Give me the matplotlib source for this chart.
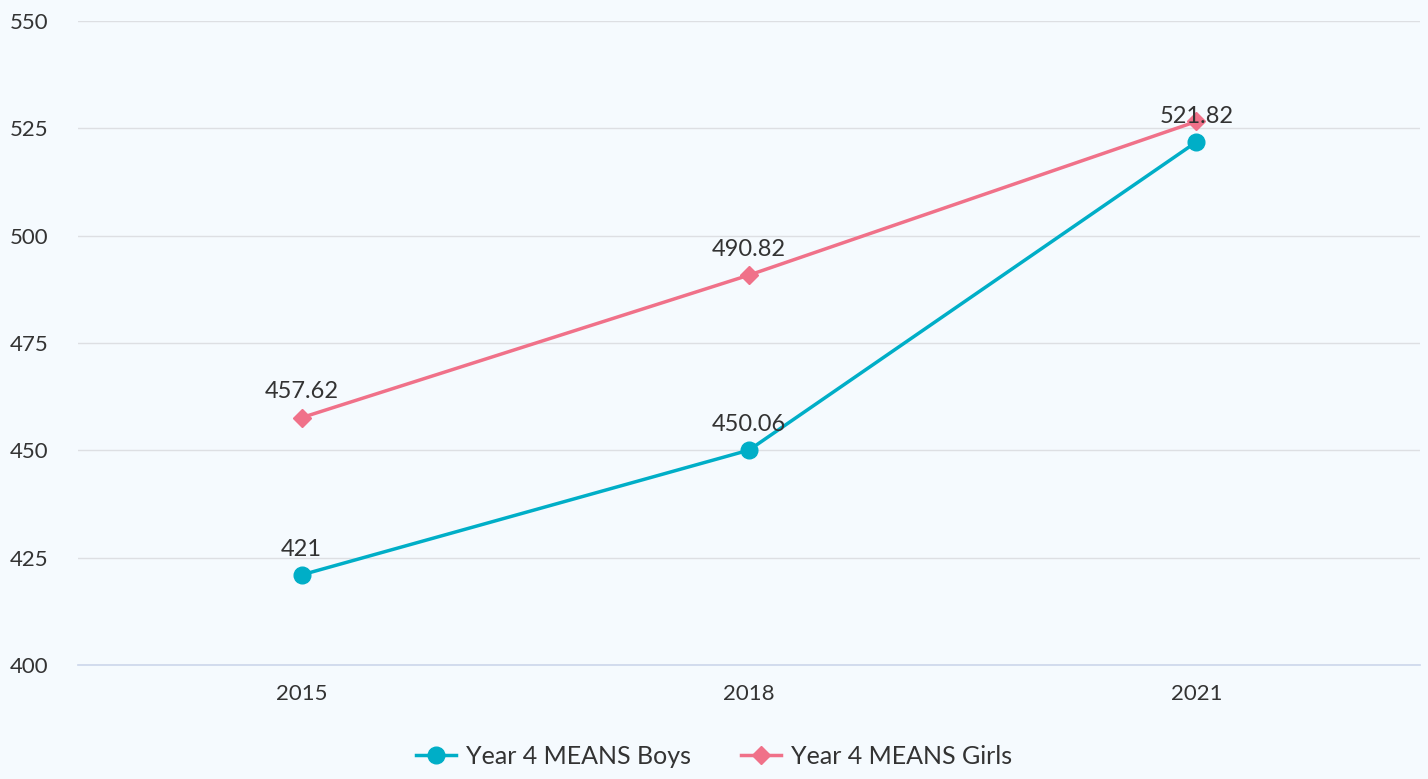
import matplotlib
matplotlib.use("Agg")
import matplotlib.pyplot as plt
from matplotlib.lines import Line2D

plt.rcParams['font.family'] = ['Lato', 'DejaVu Sans']

years = ["2015", "2018", "2021"]
boys = [421, 450.06, 521.82]
girls = [457.62, 490.82, 526.6]
boys_labels = ["421", "450.06", "521.82"]
girls_labels = ["457.62", "490.82", None]
yticks = [400, 425, 450, 475, 500, 525, 550]

teal = "#00AEC7"
pink = "#F07189"
bg = "#F5FAFE"
txt = "#333333"

fig = plt.figure(figsize=(14.28, 7.79), dpi=100, facecolor=bg)
ax = fig.add_axes([0.0546, 0.1463, 0.9398, 0.8267], facecolor=bg)

x = list(range(len(years)))
ax.plot(x, girls, color=pink, lw=2.5, marker="D", ms=9, zorder=3)
ax.plot(x, boys, color=teal, lw=2.5, marker="o", ms=12, zorder=4)

for xi, v, lab in zip(x, boys, boys_labels):
    if lab:
        ax.annotate(lab, (xi, v), xytext=(0, 11), textcoords="offset points",
                    ha="center", va="bottom", fontsize=17, color=txt, zorder=6)
for xi, v, lab in zip(x, girls, girls_labels):
    if lab:
        ax.annotate(lab, (xi, v), xytext=(0, 11), textcoords="offset points",
                    ha="center", va="bottom", fontsize=17, color=txt, zorder=6)

ax.set_xlim(-0.5, len(years) - 0.5)
ax.set_ylim(400, 550)
ax.set_yticks(yticks)
ax.set_xticks(x)
ax.set_xticklabels(years)
ax.grid(axis="y", color="#DDDFE3", lw=1)
ax.set_axisbelow(True)
for s in ["top", "right", "left"]:
    ax.spines[s].set_visible(False)
ax.spines["bottom"].set_color("#CCD6EB")
ax.spines["bottom"].set_linewidth(1.2)
ax.tick_params(axis="both", length=0, labelsize=16, labelcolor=txt)
ax.tick_params(axis="y", pad=21)
ax.tick_params(axis="x", pad=14)

handles = [
    Line2D([], [], color=teal, lw=2.5, marker="o", ms=12, label="Year 4 MEANS Boys"),
    Line2D([], [], color=pink, lw=2.5, marker="D", ms=9, label="Year 4 MEANS Girls"),
]
fig.legend(handles=handles, loc="lower center", bbox_to_anchor=(0.5, -0.015), ncol=2,
           frameon=False, fontsize=18, labelcolor=txt, handlelength=1.6,
           columnspacing=2.0, handletextpad=0.4)

fig.savefig("out.png", dpi=100, facecolor=bg)
